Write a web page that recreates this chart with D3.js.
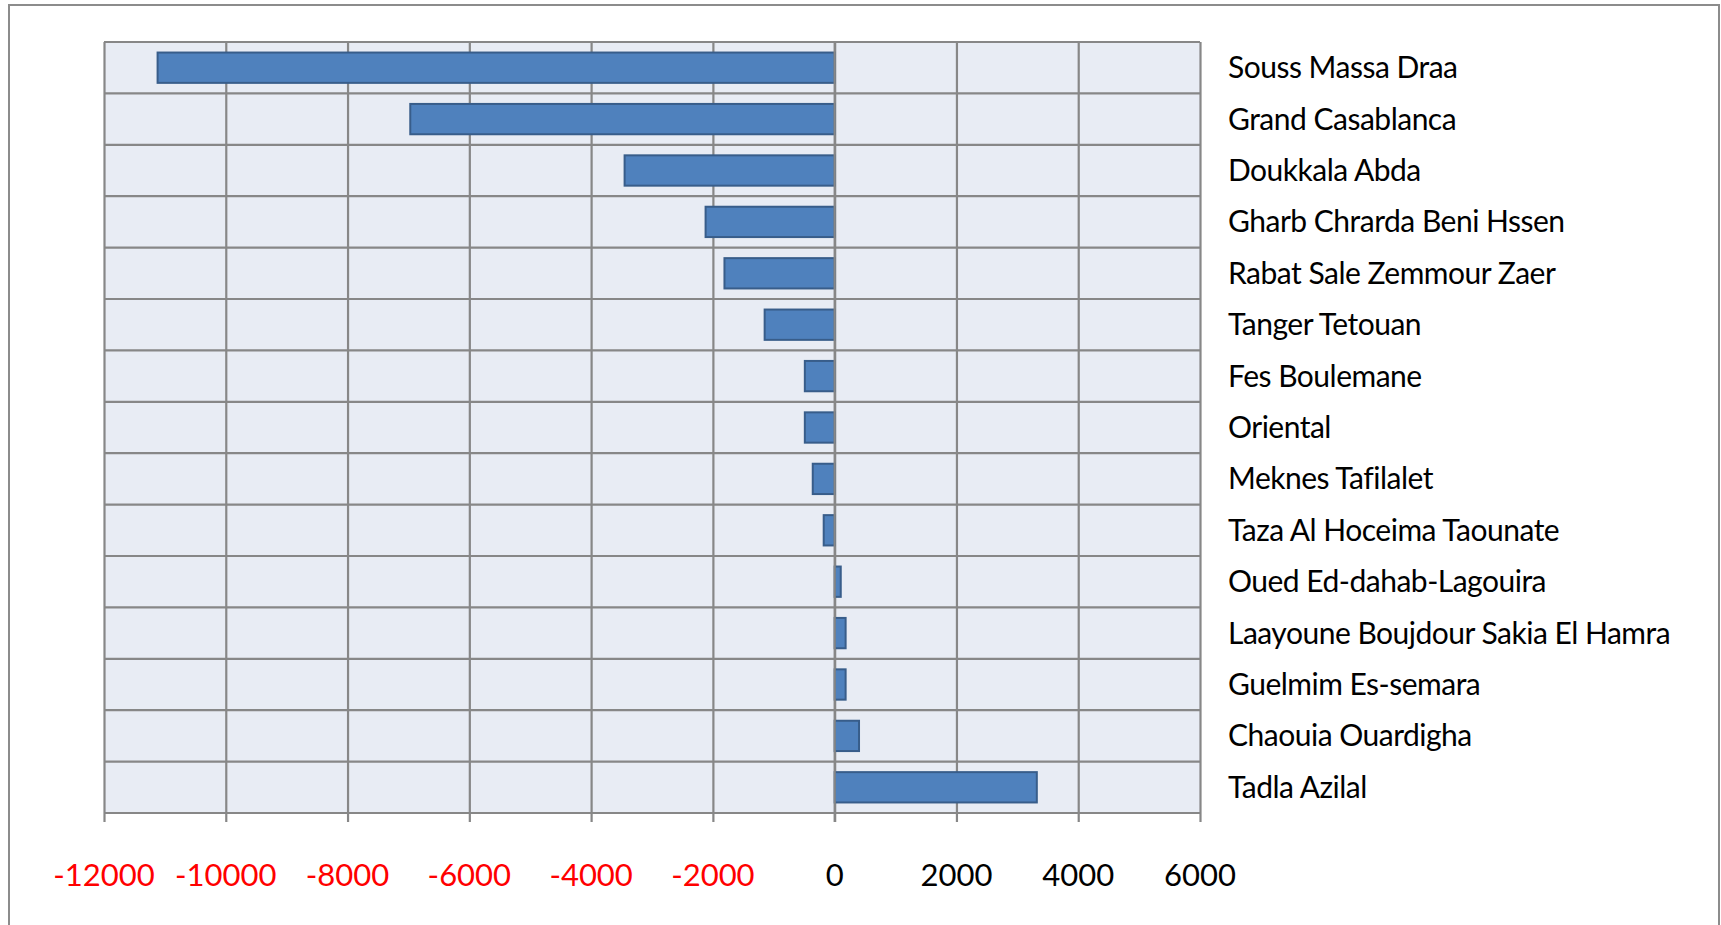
<!DOCTYPE html>
<html>
<head>
<meta charset="utf-8">
<script src="https://cdn.jsdelivr.net/npm/d3@7"></script>
<style>
  body { margin: 0; background: #fff; }
  text { font-family: Lato, "Open Sans", sans-serif; }
</style>
</head>
<body>
<svg width="1721" height="925"></svg>
<script>
// regions, top to bottom as in the chart
var regions = ["Souss Massa Draa", "Grand Casablanca", "Doukkala Abda", "Gharb Chrarda Beni Hssen",
  "Rabat Sale Zemmour Zaer", "Tanger Tetouan", "Fes Boulemane", "Oriental", "Meknes Tafilalet",
  "Taza Al Hoceima Taounate", "Oued Ed-dahab-Lagouira", "Laayoune Boujdour Sakia El Hamra",
  "Guelmim Es-semara", "Chaouia Ouardigha", "Tadla Azilal"];
var values = [-11120, -6970, -3450, -2120, -1810, -1150, -490, -490, -360, -180, 100, 180, 180, 400, 3320];
var tickVals = [-12000, -10000, -8000, -6000, -4000, -2000, 0, 2000, 4000, 6000];

var svg = d3.select("svg"),
    width = +svg.attr("width"),
    height = +svg.attr("height");

var plot = {left: 104, right: 1200, top: 42, bottom: 813};

var data = regions.map(function(r, i) { return {name: r, value: values[i]}; });

var x = d3.scaleLinear().domain([-12000, 6000]).range([plot.left, plot.right]);
var y = d3.scaleBand().domain(regions).range([plot.top, plot.bottom])
    .paddingInner(0.41).paddingOuter(0.205);

// outer frame (bottom edge runs off the picture)
svg.append("rect")
    .attr("x", 9).attr("y", 5)
    .attr("width", 1710).attr("height", 940)
    .attr("fill", "#fff").attr("stroke", "#8c8c8c").attr("stroke-width", 2);

// plot background
svg.append("rect")
    .attr("x", plot.left).attr("y", plot.top)
    .attr("width", plot.right - plot.left).attr("height", plot.bottom - plot.top)
    .attr("fill", "#e8ecf4");

// vertical grid + tick marks below
var xAxis = svg.append("g")
    .attr("transform", "translate(0," + plot.bottom + ")")
    .call(d3.axisBottom(x).tickValues(tickVals).tickSizeInner(-(plot.bottom - plot.top)).tickSizeOuter(0).tickFormat(""));
xAxis.select(".domain").remove();
xAxis.selectAll(".tick line").attr("y2", -(plot.bottom - plot.top)).attr("y1", 9)
    .attr("stroke", "#878787").attr("stroke-width", 2.2);

// horizontal grid lines at category borders
var step = y.step();
var borders = regions.map(function(r) { return y(r) - step * 0.205; });
borders.push(plot.bottom);
svg.append("g").selectAll("line")
    .data(borders)
    .enter().append("line")
    .attr("x1", plot.left).attr("x2", plot.right)
    .attr("y1", function(d) { return d; }).attr("y2", function(d) { return d; })
    .attr("stroke", "#878787").attr("stroke-width", 2.2);

// bars
svg.append("g").selectAll("rect")
    .data(data)
    .enter().append("rect")
    .attr("x", function(d) { return x(Math.min(0, d.value)); })
    .attr("y", function(d) { return y(d.name); })
    .attr("width", function(d) { return Math.abs(x(d.value) - x(0)); })
    .attr("height", y.bandwidth())
    .attr("fill", "#4f81bd")
    .attr("stroke", "#385d8a").attr("stroke-width", 2);

// zero line on top of the bars
svg.append("line")
    .attr("x1", x(0)).attr("x2", x(0))
    .attr("y1", plot.top).attr("y2", plot.bottom + 9)
    .attr("stroke", "#878787").attr("stroke-width", 2.2);

// tick labels, negatives in red
svg.append("g").selectAll("text")
    .data(tickVals)
    .enter().append("text")
    .attr("x", function(d) { return x(d); })
    .attr("y", 886)
    .attr("text-anchor", "middle")
    .attr("font-size", 31)
    .attr("fill", function(d) { return d < 0 ? "#ff0000" : "#000"; })
    .text(function(d) { return d; });

// category labels on the right
svg.append("g").selectAll("text")
    .data(regions)
    .enter().append("text")
    .attr("x", 1228)
    .attr("y", function(d) { return y(d) + y.bandwidth() / 2; })
    .attr("dy", "0.35em")
    .attr("font-size", 30)
    .attr("letter-spacing", "-0.5px")
    .attr("fill", "#000")
    .text(function(d) { return d; });
</script>
</body>
</html>
